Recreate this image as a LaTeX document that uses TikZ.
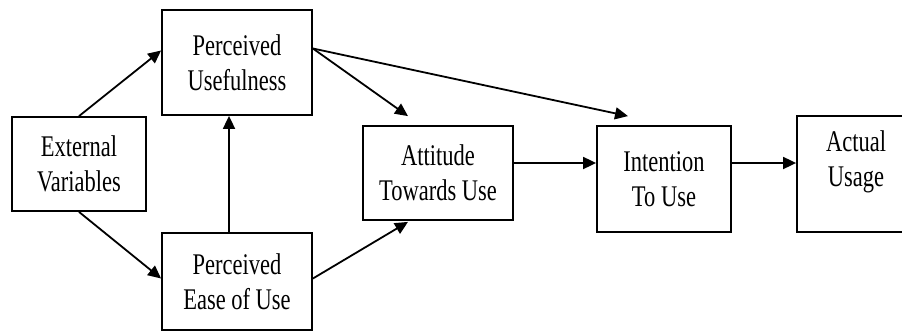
\documentclass[tikz,border=0pt]{standalone}
\usepackage{fontspec}
\setmainfont[FakeStretch=0.75]{Liberation Serif}
\usetikzlibrary{arrows.meta}

\tikzset{
  box/.style={draw, line width=1.8pt, align=center, inner sep=0pt},
  txt/.style={align=center, inner sep=0pt},
  link/.style={line width=1.8pt, -{Triangle[length=13pt,width=12pt]}}
}

\begin{document}
\begin{tikzpicture}[x=1pt, y=-1pt, font=\fontsize{30}{35}\selectfont]
\useasboundingbox (0,0) rectangle (902,332);
\clip (0,0) rectangle (902,332);
% boxes
\node[box, minimum width=134pt, minimum height=94pt] (ext) at (79,164) {External\\Variables};
\node[box, minimum width=150pt, minimum height=105pt] (pu) at (237,62.5) {Perceived\\Usefulness};
\node[box, minimum width=150pt, minimum height=97pt] (peou) at (237,281.5) {Perceived\\Ease of Use};
\node[box, minimum width=150pt, minimum height=94pt] (att) at (438,173) {Attitude\\Towards Use};
\node[box, minimum width=134pt, minimum height=106pt] (int) at (664,179) {Intention\\To Use};
\node[box, minimum width=118pt, minimum height=116pt] (act) at (856,174) {};
\node[txt] (actText) at ([yshift=12pt]act.center) {Actual\\Usage};
% arrows
\draw[link] (ext.north) -- ([yshift=12pt]pu.west);
\draw[link] (ext.south) -- ([yshift=3pt]peou.west);
\draw[link] ([xshift=-8pt]peou.north) -- ([xshift=-8pt]pu.south);
\draw[link] ([yshift=14pt]pu.east) -- ([xshift=-30pt,yshift=9pt]att.north);
\draw[link] ([yshift=14pt]pu.east) -- ([xshift=-36pt,yshift=9pt]int.north);
\draw[link] ([yshift=3pt]peou.east) -- ([xshift=-30pt,yshift=-1pt]att.south);
\draw[link] ([yshift=10pt]att.east) -- ([yshift=16pt]int.west);
\draw[link] ([yshift=16pt]int.east) -- ([yshift=11pt]act.west);
\end{tikzpicture}
\end{document}
